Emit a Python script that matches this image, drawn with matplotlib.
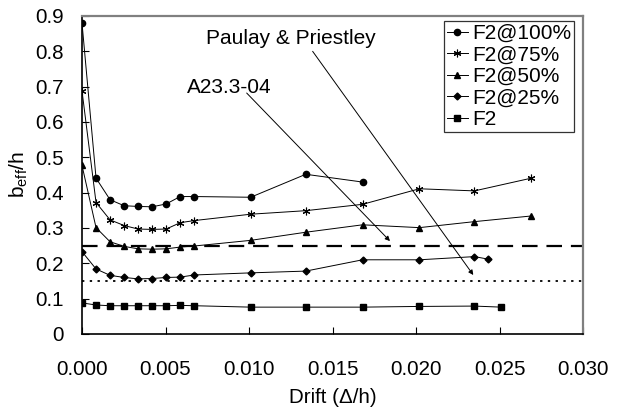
import matplotlib
matplotlib.use("Agg")
import matplotlib.pyplot as plt

plt.rcParams['font.family'] = ['Liberation Sans', 'DejaVu Sans']

# Drift values (Δ/h) at each load step
drift = [0.0, 0.00084, 0.00168, 0.00252, 0.00336, 0.0042, 0.00504, 0.00588,
         0.00672, 0.0101, 0.0134, 0.0168, 0.0202, 0.0235, 0.0269]

f2_100 = [0.880, 0.441, 0.380, 0.363, 0.361, 0.360, 0.368, 0.389, 0.389,
          0.387, 0.452, 0.430]
f2_75 = [0.688, 0.372, 0.323, 0.307, 0.297, 0.296, 0.297, 0.315, 0.321,
         0.339, 0.349, 0.367, 0.411, 0.405, 0.441]
f2_50 = [0.477, 0.301, 0.261, 0.248, 0.241, 0.240, 0.241, 0.246, 0.249,
         0.265, 0.288, 0.309, 0.301, 0.318, 0.334]
drift_25 = drift[:14] + [0.0243]
f2_25 = [0.233, 0.184, 0.166, 0.160, 0.156, 0.157, 0.160, 0.161, 0.167,
         0.173, 0.178, 0.210, 0.210, 0.219, 0.212]
drift_f2 = drift[:14] + [0.0251]
f2 = [0.088, 0.082, 0.080, 0.080, 0.080, 0.080, 0.080, 0.081, 0.080,
      0.076, 0.076, 0.076, 0.078, 0.079, 0.076]

a23_limit = 0.25
paulay_limit = 0.15

fig = plt.figure(figsize=(6.18, 4.09), dpi=100)
ax = fig.add_axes([0.1327, 0.1834, 0.8107, 0.7775])

line_kw = dict(color='black', linewidth=0.7)
ax.plot(drift[:len(f2_100)], f2_100, marker='o', markersize=4.5, label='F2@100%', **line_kw)
ax.plot(drift, f2_75, marker=(6, 2, 0), markersize=5.5, mew=0.8, label='F2@75%', **line_kw)
ax.plot(drift, f2_50, marker='^', markersize=4.5, label='F2@50%', **line_kw)
ax.plot(drift_25, f2_25, marker='D', markersize=3.5, label='F2@25%', **line_kw)
ax.plot(drift_f2, f2, marker='s', markersize=4.5, label='F2', **line_kw)

ax.axhline(a23_limit, color='black', linewidth=1.6, dashes=(7, 4))
ax.axhline(paulay_limit, color='black', linewidth=1.3, dashes=(1.3, 3))

arrow = dict(arrowstyle='-|>', color='black', lw=0.7, mutation_scale=7,
             shrinkA=0, shrinkB=0)
ax.annotate('', xy=(0.02343, 0.167), xytext=(0.01381, 0.800), arrowprops=arrow)
ax.text(0.0125, 0.835, 'Paulay & Priestley', fontsize=15, ha='center', va='center')
ax.annotate('', xy=(0.01844, 0.263), xytext=(0.00986, 0.682), arrowprops=arrow)
ax.text(0.0088, 0.697, 'A23.3-04', fontsize=15, ha='center', va='center')

ax.set_xlim(0, 0.030)
ax.set_ylim(0, 0.9)
ax.set_xticks([0.0, 0.005, 0.010, 0.015, 0.020, 0.025, 0.030])
ax.set_xticklabels(['0.000', '0.005', '0.010', '0.015', '0.020', '0.025', '0.030'])
ax.set_yticks([0, 0.1, 0.2, 0.3, 0.4, 0.5, 0.6, 0.7, 0.8, 0.9])
ax.set_yticklabels(['0', '0.1', '0.2', '0.3', '0.4', '0.5', '0.6', '0.7', '0.8', '0.9'])
ax.tick_params(direction='in', length=5, width=0.8, labelsize=14.8, pad=13)
ax.tick_params(axis='x', pad=19)

for side in ('top', 'right'):
    ax.spines[side].set_color('#808080')
    ax.spines[side].set_linewidth(1.6)
for side in ('left', 'bottom'):
    ax.spines[side].set_color('black')
    ax.spines[side].set_linewidth(1.2)

ax.set_xlabel('Drift (Δ/h)', fontsize=14.8, labelpad=6)
ax.set_ylabel(r'b$_{\mathregular{eff}}$/h', fontsize=15, labelpad=4)

leg = ax.legend(loc='upper right', bbox_to_anchor=(0.982, 0.984), fontsize=15,
                handlelength=1.0, handletextpad=0.2, borderpad=0.15,
                labelspacing=0.12, frameon=True, fancybox=False,
                borderaxespad=0.0)
leg.get_frame().set_edgecolor('black')
leg.get_frame().set_linewidth(0.9)

fig.savefig('out.png', dpi=100)
